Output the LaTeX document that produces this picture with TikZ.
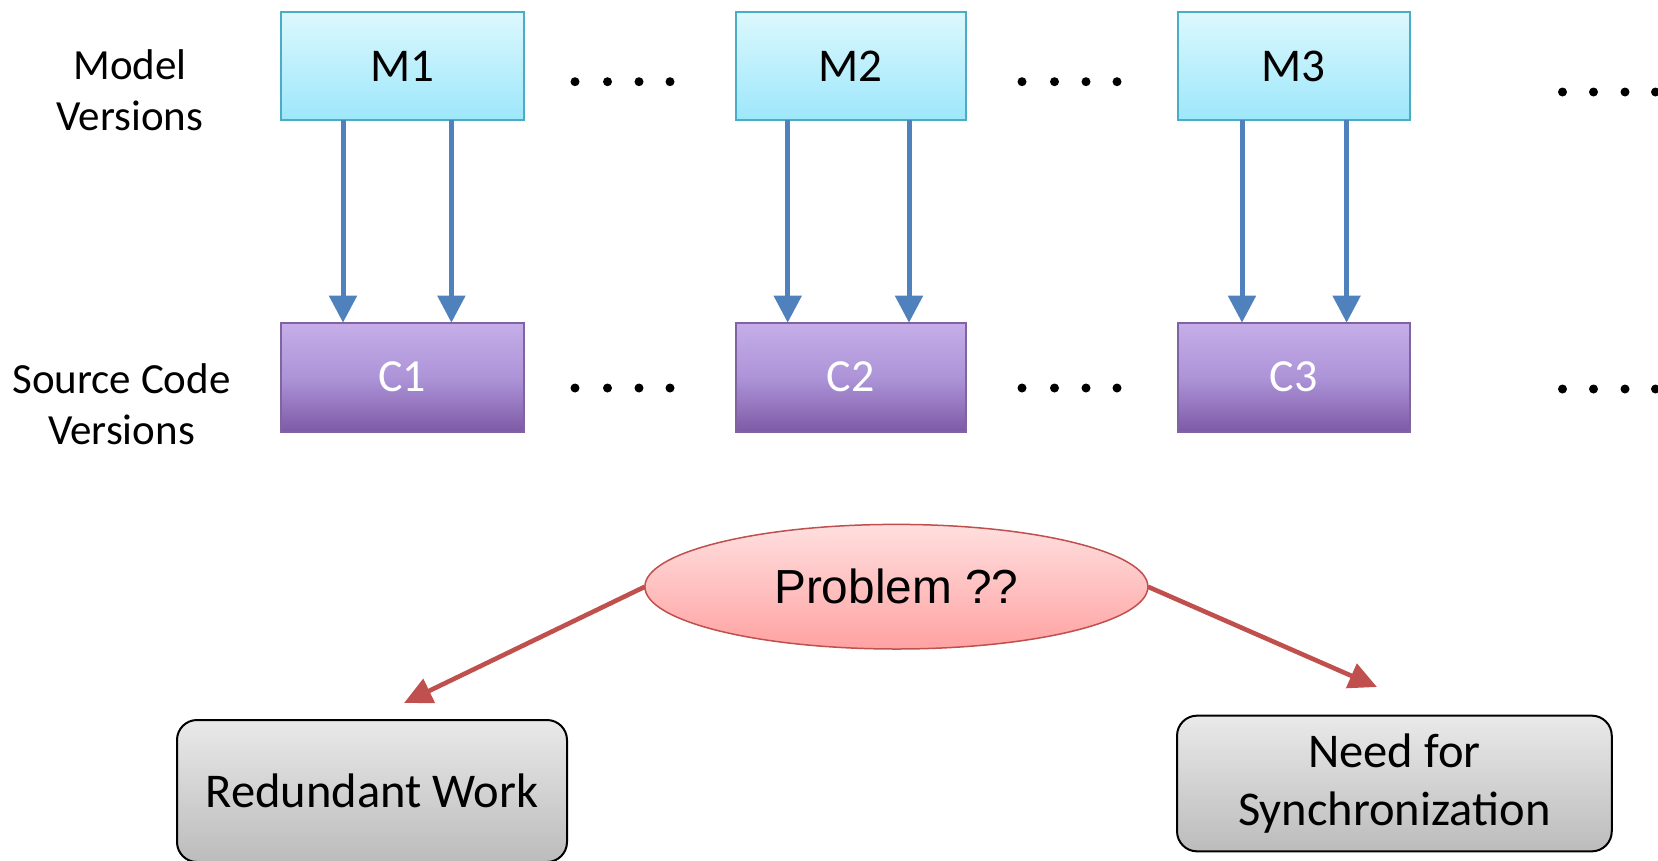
\documentclass[tikz,border=0pt]{standalone}
\usepackage{fontspec}
\setmainfont{Carlito}
\newfontfamily\probfont{Liberation Sans}
\usetikzlibrary{arrows.meta, shapes.geometric}
\definecolor{mtop}{HTML}{DCF8FD}
\definecolor{mbot}{HTML}{9DE7FB}
\definecolor{mline}{HTML}{4BACC6}
\definecolor{ctop}{HTML}{C5AEE9}
\definecolor{cmid}{HTML}{AD94D8}
\definecolor{cbot}{HTML}{7E5AA6}
\definecolor{cline}{HTML}{8064A2}
\definecolor{ptop}{HTML}{FFDFDF}
\definecolor{pbot}{HTML}{FFA2A2}
\definecolor{pline}{HTML}{C0504D}
\definecolor{gtop}{HTML}{E9E9E9}
\definecolor{gbot}{HTML}{BCBCBC}
\definecolor{tarrow}{HTML}{4F81BD}

\begin{document}
\begin{tikzpicture}[x=1pt,y=-1pt,
    model/.style={draw=mline,line width=2pt,top color=mtop,bottom color=mbot,minimum height=107.7pt,inner sep=0pt,outer sep=0pt,font=\fontsize{47}{56}\selectfont},
    code/.style={draw=cline,line width=2pt,top color=ctop,bottom color=cbot,middle color=cmid,minimum height=109pt,inner sep=0pt,outer sep=0pt,text=white,font=\fontsize{46}{55}\selectfont},
    side/.style={align=center,font=\fontsize{43}{50.5}\selectfont},
    problem/.style={ellipse,draw=pline,line width=1.5pt,top color=ptop,bottom color=pbot,minimum width=503pt,minimum height=124.6pt,inner sep=0pt,outer sep=0pt,font=\probfont\fontsize{47.8}{56}\selectfont},
    result/.style={draw,line width=2pt,rounded corners=20pt,top color=gtop,bottom color=gbot,align=center,inner sep=0pt,outer sep=0pt,font=\fontsize{48.5}{58}\selectfont},
    trace/.style={-{Triangle[length=27pt,width=27pt]},draw=tarrow,line width=5pt},
    cause/.style={-{Triangle[length=28pt,width=26pt]},draw=pline,line width=4.6pt}]
                \useasboundingbox (0,0) rectangle (1658,860);
                \clip (0,0) rectangle (1658,860);
                \node[side] (mlabel) at (130,90) {Model\\Versions};
                \node[side] (clabel) at (121.5,404) {Source Code\\Versions};
                \node[model, minimum width=242.6pt] (m1) at (402.3,66.2) {M1};
                \node[model, minimum width=230.2pt] (m2) at (850.6,66.2) {M2};
                \node[model, minimum width=232.4pt] (m3) at (1293.8,66.2) {M3};
                \node[code, minimum width=242.6pt] (c1) at (402.3,377.2) {C1};
                \node[code, minimum width=230.2pt] (c2) at (850.6,377.2) {C2};
                \node[code, minimum width=232.4pt] (c3) at (1293.8,377.2) {C3};
                \foreach \x in {575,607.5,639,670,1022,1054.5,1086,1117} {
                    \fill (\x,81.7) circle (4.5pt);
                    \fill (\x,388) circle (4.5pt);
                }
                \foreach \x in {1562.5,1593.5,1625,1655.5} {
                    \fill (\x,92) circle (4.5pt);
                    \fill (\x,389) circle (4.5pt);
                }
                \node[problem] (prob) at (896.4,586.7) {Problem ??};
                \node[result, minimum width=390pt, minimum height=142pt] (redund) at (372,791) {Redundant Work};
                \node[result, minimum width=434.7pt, minimum height=135.7pt] (sync) at (1394.4,783.5) {Need for\\Synchronization};
                \coordinate (redtip) at (404,703);
                \coordinate (synctip) at (1377,687);
                \path
                ([xshift=-59.3pt]m1.south) edge[trace] ([xshift=-59.3pt]c1.north)
                ([xshift=49.1pt]m1.south) edge[trace] ([xshift=49.1pt]c1.north)
                ([xshift=-62.9pt]m2.south) edge[trace] ([xshift=-62.9pt]c2.north)
                ([xshift=58.4pt]m2.south) edge[trace] ([xshift=58.4pt]c2.north)
                ([xshift=-51.8pt]m3.south) edge[trace] ([xshift=-51.8pt]c3.north)
                ([xshift=52.8pt]m3.south) edge[trace] ([xshift=52.8pt]c3.north)
                (prob.west) edge[cause] (redtip)
                (prob.east) edge[cause] (synctip)
                ;
            \end{tikzpicture}
\end{document}
